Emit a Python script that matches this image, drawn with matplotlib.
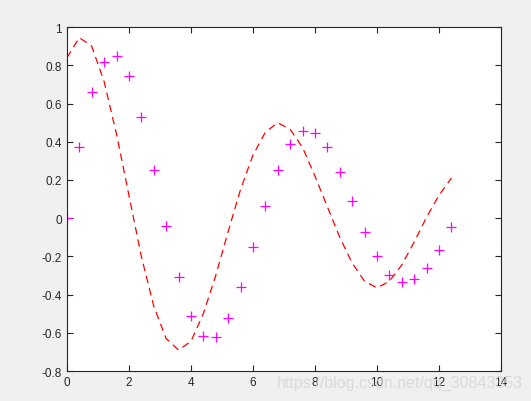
import numpy as np
from matplotlib import pyplot as plt

# sample points (magenta crosses)
x_pts = [0, 0.4, 0.8, 1.2, 1.6, 2.0, 2.4, 2.8, 3.2, 3.6, 4.0, 4.4, 4.8, 5.2, 5.6, 6.0,
         6.4, 6.8, 7.2, 7.6, 8.0, 8.4, 8.8, 9.2, 9.6, 10.0, 10.4, 10.8, 11.2, 11.6, 12.0, 12.4]
y_pts = [0, 0.37, 0.66, 0.82, 0.85, 0.745, 0.53, 0.25, -0.04, -0.31, -0.51, -0.615, -0.62,
         -0.525, -0.36, -0.15, 0.065, 0.25, 0.39, 0.455, 0.445, 0.37, 0.24, 0.09, -0.07,
         -0.2, -0.295, -0.335, -0.32, -0.26, -0.165, -0.045]

# dashed red curve
y_line = [0.84, 0.945, 0.90, 0.715, 0.44, 0.12, -0.2, -0.46, -0.63, -0.69, -0.645, -0.5,
          -0.3, -0.07, 0.15, 0.33, 0.45, 0.5, 0.465, 0.37, 0.22, 0.06, -0.1, -0.235,
          -0.33, -0.365, -0.33, -0.245, -0.125, 0.005, 0.12, 0.21]

plt.rcParams['font.family'] = ['Liberation Sans', 'DejaVu Sans']

fig = plt.figure(figsize=(5.31, 4.02), dpi=100, facecolor='#f0f0f0')
ax = fig.add_axes([0.126, 0.0746, 0.8175, 0.8554])

ax.plot(x_pts, y_line, color='red', linestyle=(0, (6, 4)), linewidth=0.9)
ax.plot(x_pts, y_pts, linestyle='none', marker='+', color='magenta',
        markersize=7, markeredgewidth=0.9)

ax.set_xlim(0, 14)
ax.set_ylim(-0.8, 1)
ax.set_xticks(np.arange(0, 15, 2))
ax.set_yticks(np.round(np.arange(-0.8, 1.01, 0.2), 1))
ax.set_yticklabels(['-0.8', '-0.6', '-0.4', '-0.2', '0', '0.2', '0.4', '0.6', '0.8', '1'])

ax.tick_params(direction='in', top=True, right=True, labelsize=8.5,
               colors='#262626', length=4, width=0.8)
for s in ax.spines.values():
    s.set_color('#262626')
    s.set_linewidth(0.8)

fig.text(0.522, 0.045, 'https://blog.csdn.net/qq_30843353', fontsize=11.5,
         color='#d8d8d8', alpha=0.9, va='center')

plt.savefig('out.png', dpi=100, facecolor=fig.get_facecolor())
